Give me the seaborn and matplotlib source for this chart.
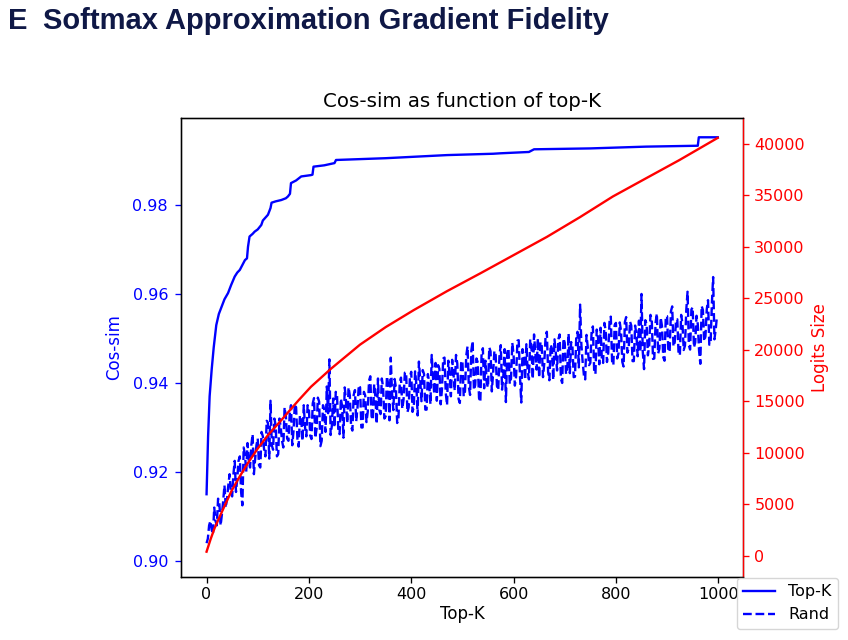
import matplotlib
matplotlib.use("Agg")
import matplotlib.pyplot as plt
import seaborn as sns

# ---------------- data ----------------
topk_k = [0, 3, 6, 10, 14, 19, 24, 29, 35, 42,
          48, 55, 60, 65, 70, 75, 79, 81, 84, 90,
          94, 100, 107, 110, 117, 120, 125, 127, 135, 146,
          155, 159, 163, 165, 175, 185, 204, 207, 209, 230,
          250, 253, 350, 470, 560, 574, 630, 640, 750, 859,
          960, 962, 999]
topk_cos = [0.915, 0.928, 0.937, 0.943, 0.948, 0.953, 0.9555, 0.957, 0.9588, 0.9602,
            0.962, 0.9639, 0.9648, 0.9654, 0.9665, 0.9676, 0.968, 0.9706, 0.9729, 0.9735,
            0.974, 0.9745, 0.9755, 0.9765, 0.9774, 0.9778, 0.9793, 0.9805, 0.9808, 0.9811,
            0.9815, 0.9819, 0.9825, 0.9849, 0.9855, 0.9864, 0.9867, 0.9868, 0.9886, 0.9889,
            0.9894, 0.9901, 0.9905, 0.9912, 0.9915, 0.9916, 0.9919, 0.9925, 0.9927, 0.9931,
            0.9933, 0.9952, 0.9952]

# random-sampling cosine similarity, one value every 2.5 in K
rand_cos = [
    .9040, .905, .9080, .909, .9070, .906, .9120, .909, .9080, .914, .9130, .908, .9105, .9135, .9170, .912, .9140, .917, .9195, .9155,
    .9145, .9195, .9225, .9155, .9185, .9225, .9235, .9155, .9125, .9255, .9240, .920, .9265, .9225, .9210, .926, .9285, .9195, .9230, .926,
    .9275, .9215, .9210, .929, .9280, .925, .9235, .9315, .9310, .923, .9360, .926, .9250, .932, .9305, .9235, .9240, .932, .9300, .927,
    .9255, .9345, .9325, .9275, .9270, .933, .9350, .926, .9293, .9353, .9345, .9275, .9257, .9327, .9320, .927, .9350, .930, .9280, .935,
    .9342, .9282, .9274, .9354, .9366, .9276, .9297, .9367, .9358, .9258, .9270, .935, .9340, .929, .9392, .9332, .9453, .9283, .9305, .9365,
    .9300, .938, .9372, .9292, .9285, .9365, .9347, .9277, .9390, .936, .9310, .939, .9372, .9302, .9293, .9373, .9384, .9314, .9345, .9395,
    .9390, .930, .9300, .938, .9372, .9312, .9335, .9405, .9415, .9325, .9317, .9397, .9368, .9308, .9410, .934, .9330, .941, .9390, .932,
    .9325, .9415, .9396, .9316, .9457, .9377, .9339, .9409, .9390, .931, .9320, .940, .9412, .9342, .9363, .9423, .9424, .9334, .9345, .9415,
    .9425, .9335, .9346, .9426, .9397, .9327, .9448, .9408, .9359, .9429, .9420, .934, .9340, .942, .9402, .9352, .9463, .9413, .9375, .9445,
    .9360, .944, .9432, .9352, .9385, .9455, .9457, .9377, .9350, .945, .9420, .937, .9452, .9422, .9383, .9463, .9444, .9364, .9355, .9445,
    .9450, .937, .9381, .9461, .9482, .9392, .9373, .9473, .9494, .9384, .9395, .9455, .9446, .9366, .9357, .9467, .9478, .9388, .9450, .940,
    .9390, .948, .9471, .9381, .9422, .9472, .9463, .9393, .9384, .9464, .9485, .9385, .9416, .9476, .9357, .9467, .9478, .9398, .9410, .949,
    .9464, .9394, .9415, .9495, .9496, .9416, .9356, .9476, .9457, .9407, .9487, .9427, .9408, .9498, .9479, .9409, .9509, .9469, .9430, .950,
    .9412, .9492, .9483, .9413, .9444, .9504, .9515, .9425, .9406, .9486, .9477, .9407, .9498, .9468, .9428, .9498, .9509, .9409, .9400, .950,
    .9490, .942, .9431, .9511, .9422, .9492, .9483, .9413, .9414, .9504, .9515, .9435, .9576, .9486, .9447, .9417, .9408, .9508, .9480, .944,
    .9445, .9515, .9527, .9427, .9420, .952, .9502, .9442, .9524, .9454, .9445, .9535, .9517, .9447, .9468, .9538, .9549, .9449, .9440, .953,
    .9535, .9455, .9466, .9536, .9517, .9447, .9437, .9537, .9548, .9468, .9478, .9538, .9529, .9449, .9449, .9529, .9510, .946, .9540, .947,
    .9600, .947, .9431, .9541, .9532, .9462, .9483, .9553, .9544, .9454, .9455, .9535, .9556, .9466, .9477, .9547, .9528, .9458, .9450, .955,
    .9550, .947, .9471, .9561, .9572, .9482, .9492, .9542, .9543, .9463, .9463, .9553, .9534, .9474, .9484, .9564, .9605, .9485, .9475, .9565,
    .9570, .948, .9491, .9551, .9532, .9472, .9443, .9573, .9564, .9494, .9505, .9565, .9586, .9486, .9487, .9577, .9638, .9498, .9520, .955,
]
rand_k = [2.5 * i for i in range(len(rand_cos))]

logits_k = [0, 8, 16, 25, 35, 49, 65, 81, 100, 120, 146, 159, 180, 204, 243,
            300, 350, 405, 470, 535, 600, 665, 730, 794, 860, 924, 999]
logits_size = [370, 1600, 2700, 3700, 4800, 6300, 7700, 9000, 10400, 11700, 13150,
               13900, 15100, 16400, 18150, 20500, 22200, 23860, 25700, 27430, 29200,
               30970, 32900, 34900, 36700, 38440, 40600]

x_ticks = [0, 200, 400, 600, 800, 1000]
left_ticks = [0.90, 0.92, 0.94, 0.96, 0.98]
right_ticks = [0, 5000, 10000, 15000, 20000, 25000, 30000, 35000, 40000]
legend_labels = ["Top-K", "Rand"]

# ---------------- figure ----------------
W, H = 848, 640
fig = plt.figure(figsize=(W / 100, H / 100), dpi=100)
fig.patch.set_facecolor("white")

navy = "#0f1846"
fig.text(8 / W, 1 - 29 / H, "E", fontsize=21, fontweight="bold", color=navy,
         family="Liberation Sans", va="baseline", ha="left")
fig.text(43 / W, 1 - 29 / H, "Softmax Approximation Gradient Fidelity", fontsize=21,
         fontweight="bold", color=navy, family="Liberation Sans", va="baseline", ha="left")

left, right, top, bottom = 181, 743.3, 117.7, 577
ax = fig.add_axes([left / W, 1 - bottom / H, (right - left) / W, (bottom - top) / H])

lw = 1.7
sns.lineplot(x=topk_k, y=topk_cos, ax=ax, color="blue", linewidth=lw,
             estimator=None, sort=False)
sns.lineplot(x=rand_k, y=rand_cos, ax=ax, color="blue", linewidth=lw,
             linestyle="--", estimator=None, sort=False)
ax2 = ax.twinx()
sns.lineplot(x=logits_k, y=logits_size, ax=ax2, color="red", linewidth=lw,
             estimator=None, sort=False)

ax.set_xlim(-49.95, 1048.95)
ax.set_ylim(0.8964, 0.9996)
ax2.set_ylim(-2090, 42560)
ax.set_xticks(x_ticks)
ax.set_yticks(left_ticks)
ax2.set_yticks(right_ticks)

fs = 11.5
ax.set_title("Cos-sim as function of top-K", fontsize=14.2, pad=8)
ax.set_xlabel("Top-K", fontsize=12, labelpad=2.5)
ax.set_ylabel("Cos-sim", fontsize=12, color="blue", labelpad=7)
ax2.set_ylabel("Logits Size", fontsize=12, color="red", labelpad=4)
ax.tick_params(axis="x", labelsize=fs, length=4.3, width=0.95, pad=2.8)
ax.tick_params(axis="y", colors="blue", labelsize=fs, length=4.3, width=0.95, pad=5)
ax2.tick_params(axis="y", colors="red", labelsize=fs, length=4.3, width=0.95, pad=3.6)
for a in (ax, ax2):
    for s in a.spines.values():
        s.set_linewidth(0.95)
    a.grid(False)
ax2.spines["right"].set_color("red")

lines = ax.get_lines()
fig.legend([lines[0], lines[1]], legend_labels, loc="upper left",
           bbox_to_anchor=(737 / W, 1 - 578 / H), borderaxespad=0, fontsize=fs)

fig.savefig("out.png", dpi=100)
